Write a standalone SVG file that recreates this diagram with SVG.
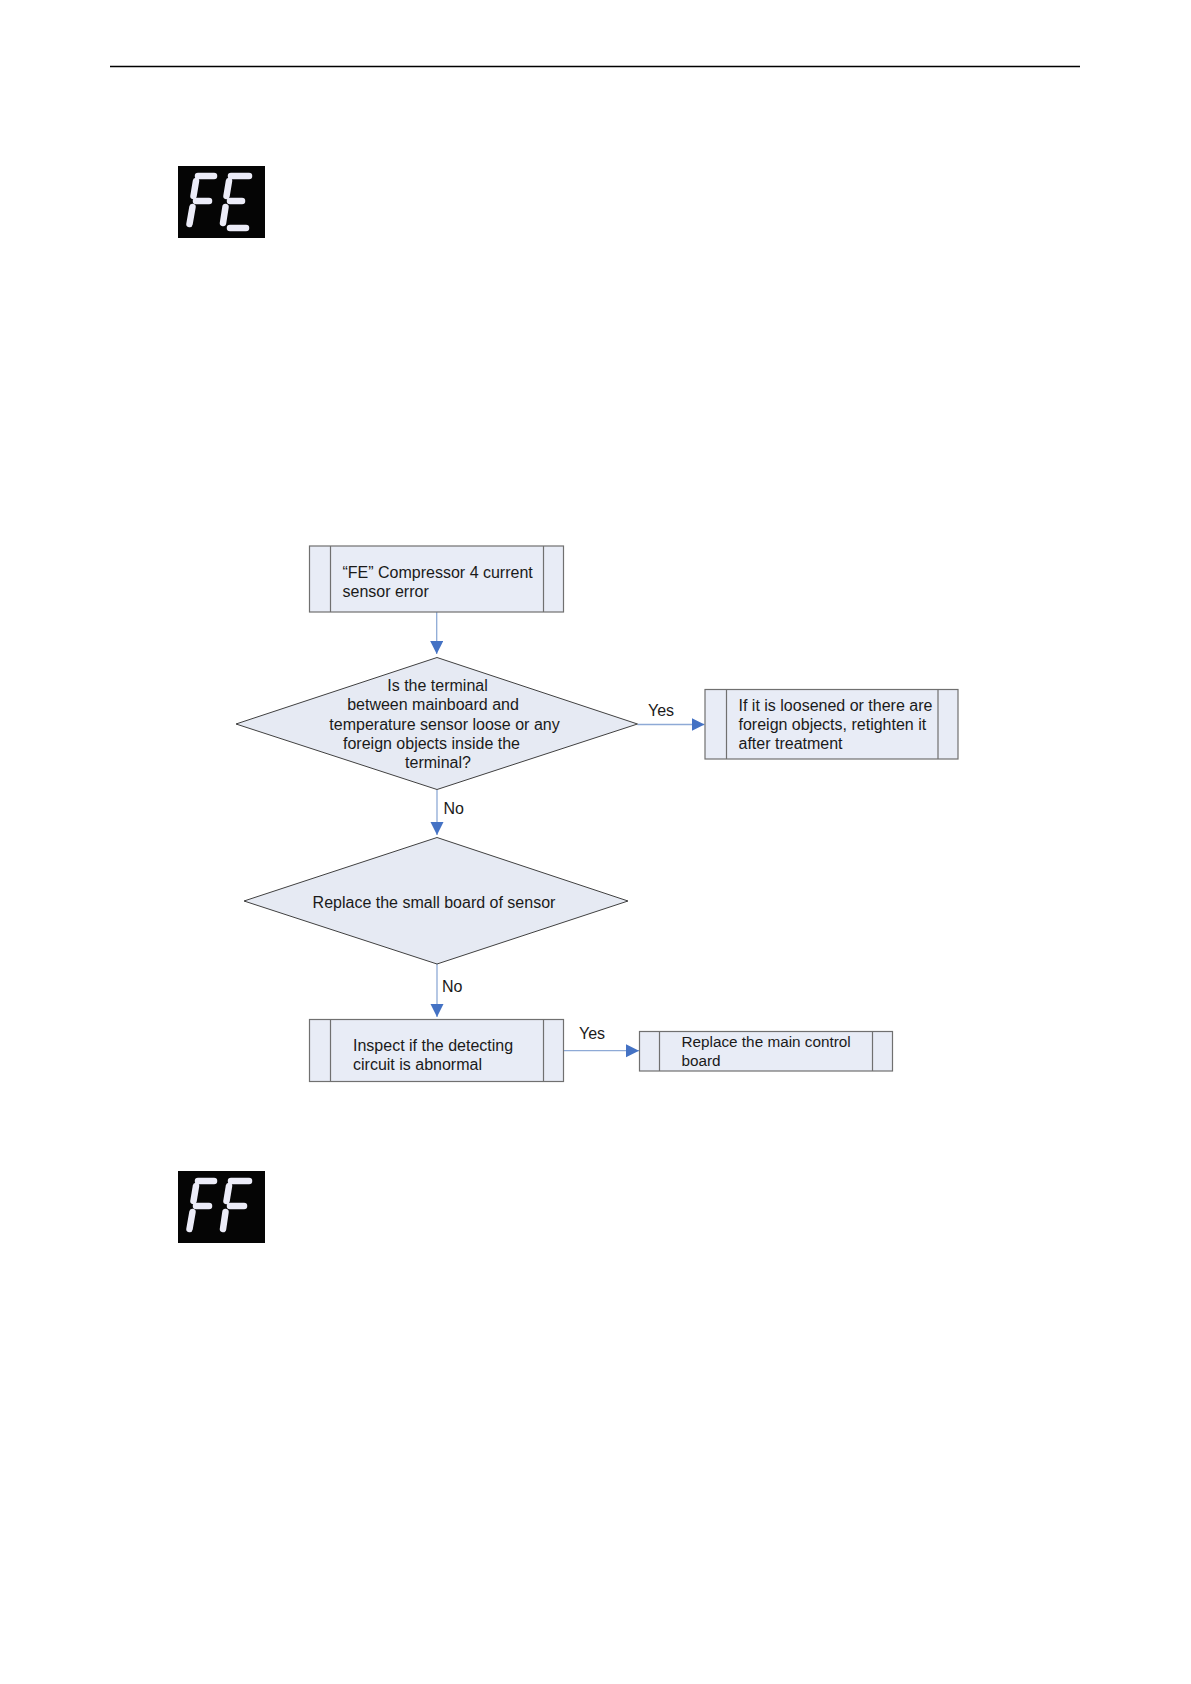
<svg xmlns="http://www.w3.org/2000/svg" width="1191" height="1684" viewBox="0 0 1191 1684">
<style>
.bg{fill:#ffffff}
.box{fill:#e8ecf6;stroke:#707070;stroke-width:1.2}
.div{stroke:#707070;stroke-width:1.2;fill:none}
.dia{fill:#e6eaf3;stroke:#404040;stroke-width:1}
.conn{stroke:#8eaad6;stroke-width:1.3;fill:none}
.t{font-family:"Liberation Sans",Arial,sans-serif;font-size:16px;fill:#1a1a1a}
.s{font-size:15.3px}
.m{text-anchor:middle}
.lcd{fill:#050505}
.seg{stroke:#ececf8;stroke-width:6.5;stroke-linecap:round}
</style>
<defs>
<marker id="ah" markerUnits="userSpaceOnUse" markerWidth="14" markerHeight="14" refX="13" refY="6.5" orient="auto">
<path d="M0,0 L13,6.5 L0,13 z" fill="#4472c4"/>
</marker>
</defs>
<rect class="bg" x="0" y="0" width="1191" height="1684"/>
<line x1="110" y1="66.5" x2="1080" y2="66.5" stroke="#000" stroke-width="1.3"/>

<g id="icon-fe">
<rect class="lcd" x="178" y="166" width="87" height="72"/>
<line class="seg" x1="198" y1="176" x2="214" y2="176"/>
<line class="seg" x1="196" y1="181" x2="193.5" y2="196"/>
<line class="seg" x1="196" y1="201" x2="209" y2="201"/>
<line class="seg" x1="192.5" y1="207" x2="189.5" y2="224"/>
<line class="seg" x1="231" y1="176" x2="249" y2="176"/>
<line class="seg" x1="229" y1="181" x2="226.5" y2="196"/>
<line class="seg" x1="230" y1="201" x2="242" y2="201"/>
<line class="seg" x1="225.5" y1="207" x2="223" y2="223"/>
<line class="seg" x1="230" y1="228" x2="246" y2="228"/>
</g>

<g id="icon-ff">
<rect class="lcd" x="178" y="1171" width="87" height="72"/>
<line class="seg" x1="198" y1="1181" x2="214" y2="1181"/>
<line class="seg" x1="196" y1="1186" x2="193.5" y2="1201"/>
<line class="seg" x1="196" y1="1206" x2="209" y2="1206"/>
<line class="seg" x1="192.5" y1="1212" x2="189.5" y2="1229"/>
<line class="seg" x1="231" y1="1181" x2="249" y2="1181"/>
<line class="seg" x1="229" y1="1186" x2="226.5" y2="1201"/>
<line class="seg" x1="230" y1="1206" x2="244" y2="1206"/>
<line class="seg" x1="225.5" y1="1212" x2="223" y2="1229"/>
</g>

<g id="connectors">
<line class="conn" x1="436.7" y1="612" x2="436.7" y2="654" marker-end="url(#ah)"/>
<line class="conn" x1="637.5" y1="724.5" x2="704.5" y2="724.5" marker-end="url(#ah)"/>
<line class="conn" x1="437" y1="790" x2="437" y2="835" marker-end="url(#ah)"/>
<line class="conn" x1="437" y1="964" x2="437" y2="1017" marker-end="url(#ah)"/>
<line class="conn" x1="563.5" y1="1050.7" x2="639" y2="1050.7" marker-end="url(#ah)"/>
<text class="t" x="648" y="716">Yes</text>
<text class="t" x="443.5" y="814">No</text>
<text class="t" x="442" y="992">No</text>
<text class="t" x="579" y="1039">Yes</text>
</g>

<g id="n-start">
<rect class="box" x="309.5" y="546" width="254" height="66"/>
<line class="div" x1="330.5" y1="546" x2="330.5" y2="612"/>
<line class="div" x1="543.5" y1="546" x2="543.5" y2="612"/>
<text class="t" x="342.5" y="578">“FE” Compressor 4 current</text>
<text class="t" x="342.5" y="596.5">sensor error</text>
</g>

<g id="n-q1">
<polygon class="dia" points="437,657.5 637.5,724 437,789.5 236,724"/>
<text class="t m" x="437.5" y="691">Is the terminal</text>
<text class="t m" x="433" y="710.3">between mainboard and</text>
<text class="t m" x="444.5" y="729.6">temperature sensor loose or any</text>
<text class="t m" x="431.5" y="748.9">foreign objects inside the</text>
<text class="t m" x="438" y="768">terminal?</text>
</g>

<g id="n-fix">
<rect class="box" x="705" y="689.5" width="253" height="69.5"/>
<line class="div" x1="726.5" y1="689.5" x2="726.5" y2="759"/>
<line class="div" x1="938" y1="689.5" x2="938" y2="759"/>
<text class="t" x="738.5" y="710.5">If it is loosened or there are</text>
<text class="t" x="738.5" y="729.5">foreign objects, retighten it</text>
<text class="t" x="738.5" y="748.5">after treatment</text>
</g>

<g id="n-q2">
<polygon class="dia" points="437,837.5 628,901 437,964 244,901"/>
<text class="t m" x="434" y="908">Replace the small board of sensor</text>
</g>

<g id="n-inspect">
<rect class="box" x="309.5" y="1019.5" width="254" height="62"/>
<line class="div" x1="330.5" y1="1019.5" x2="330.5" y2="1081.5"/>
<line class="div" x1="543.5" y1="1019.5" x2="543.5" y2="1081.5"/>
<text class="t" x="353" y="1051">Inspect if the detecting</text>
<text class="t" x="353" y="1070">circuit is abnormal</text>
</g>

<g id="n-replace">
<rect class="box" x="639.5" y="1031.5" width="253" height="39.5"/>
<line class="div" x1="659.5" y1="1031.5" x2="659.5" y2="1071"/>
<line class="div" x1="872.5" y1="1031.5" x2="872.5" y2="1071"/>
<text class="t s" x="681.5" y="1047">Replace the main control</text>
<text class="t s" x="681.5" y="1065.5">board</text>
</g>
</svg>
